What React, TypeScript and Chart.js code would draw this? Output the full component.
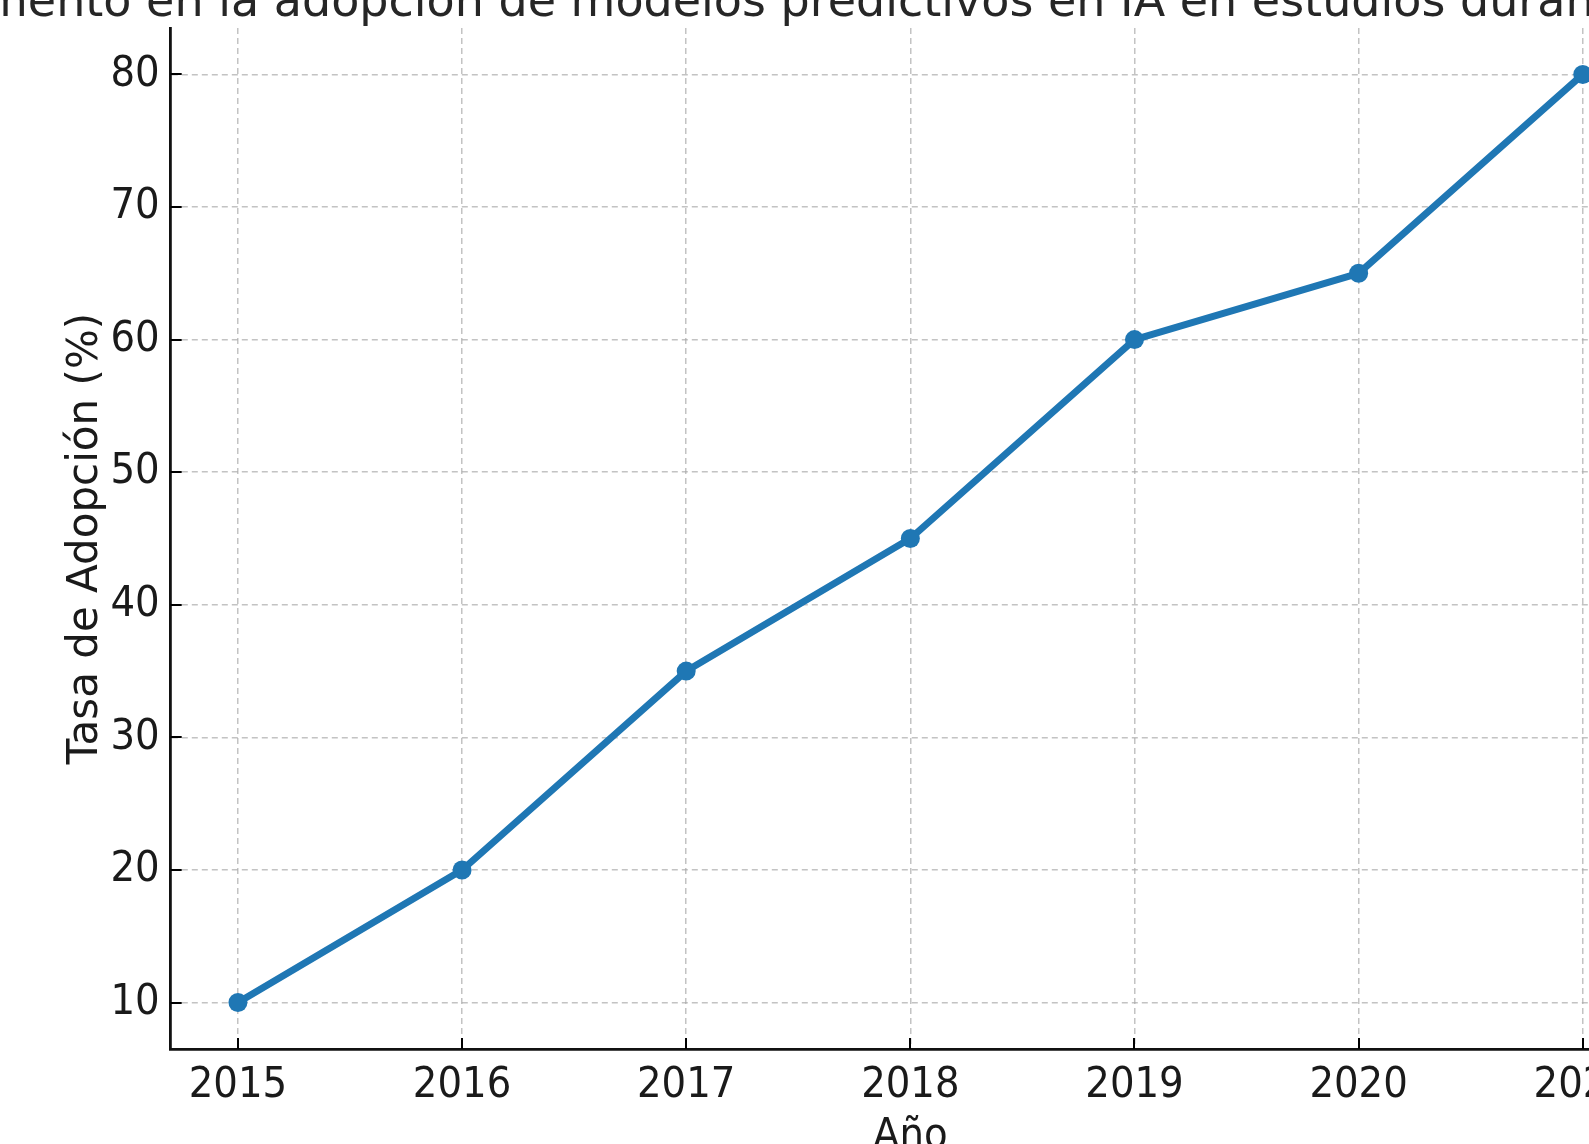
import React, { useEffect, useRef } from "react";
import { Chart, registerables } from "chart.js";

Chart.register(...registerables);

// ---- data ----
const years = [2015, 2016, 2017, 2018, 2019, 2020, 2021];
const adoptionRate = [10, 20, 35, 45, 60, 65, 80];
const yTickValues = [10, 20, 30, 40, 50, 60, 70, 80];
const titleText =
  "Aumento en la adopción de modelos predictivos en IA en estudios durante 2015-2021";
const xAxisTitle = "Año";
const yAxisTitle = "Tasa de Adopción (%)";

// ---- layout (the reference is a crop of a larger figure) ----
const VIEW_W = 1589;
const VIEW_H = 1144;
const OX = 200;
const OY = 60;
const CW = 2000;
const CH = 1250;

const TICK_FONT = '"DejaVu Sans Condensed", "Liberation Sans Narrow", "DejaVu Sans", sans-serif';
const LABEL_FONT = '"DejaVu Sans", sans-serif';

const innerTicks = {
  id: "innerTicks",
  afterDatasetsDraw(chart: any) {
    const { ctx, chartArea, scales } = chart;
    ctx.save();
    ctx.strokeStyle = "#000";
    ctx.lineWidth = 2;
    ctx.setLineDash([]);
    ctx.beginPath();
    scales.y.ticks.forEach((t: any) => {
      const y = Math.round(scales.y.getPixelForValue(t.value));
      ctx.moveTo(chartArea.left, y);
      ctx.lineTo(chartArea.left + 11, y);
    });
    scales.x.ticks.forEach((t: any) => {
      const x = Math.round(scales.x.getPixelForValue(t.value));
      ctx.moveTo(x, chartArea.bottom);
      ctx.lineTo(x, chartArea.bottom - 11);
    });
    ctx.stroke();
    ctx.restore();
  },
};

const topTitle = {
  id: "topTitle",
  afterDraw(chart: any) {
    const { ctx, chartArea } = chart;
    ctx.save();
    ctx.font = `46px ${LABEL_FONT}`;
    ctx.fillStyle = "#262626";
    ctx.textAlign = "center";
    ctx.textBaseline = "alphabetic";
    ctx.fillText(titleText, (chartArea.left + chartArea.right) / 2 + 4, chartArea.top - 12);
    ctx.restore();
  },
};

export default function App() {
  const canvasRef = useRef<HTMLCanvasElement | null>(null);

  useEffect(() => {
    const canvas = canvasRef.current;
    if (!canvas) return;
    const chart = new Chart(canvas, {
      type: "line",
      data: {
        datasets: [
          {
            label: yAxisTitle,
            data: years.map((y, i) => ({ x: y, y: adoptionRate[i] })),
            borderColor: "#1f77b4",
            backgroundColor: "#1f77b4",
            borderWidth: 7,
            pointRadius: 9.5,
            pointBackgroundColor: "#1f77b4",
            pointBorderWidth: 0,
            tension: 0,
            clip: false as any,
          },
        ],
      },
      plugins: [innerTicks, topTitle],
      options: {
        animation: false,
        responsive: false,
        devicePixelRatio: 1,
        layout: { padding: { top: 88, left: 0, right: 150, bottom: 27.4 } },
        plugins: {
          legend: { display: false },
          title: { display: false },
          tooltip: { enabled: false },
        },
        scales: {
          x: {
            type: "linear",
            min: 2014.7,
            max: 2021.3,
            afterBuildTicks: (scale: any) => {
              scale.ticks = years.map((v) => ({ value: v }));
            },
            afterFit: (scale: any) => {
              scale.height = 113.6;
            },
            ticks: {
              autoSkip: false,
              maxRotation: 0,
              padding: 11,
              color: "#1a1a1a",
              font: { family: TICK_FONT, size: 43 },
              callback: (v: any) => String(v),
            },
            grid: {
              color: "rgba(170,170,170,0.7)",
              lineWidth: 1.5,
              drawTicks: false,
            },
            border: { display: true, color: "#111", width: 2.8, dash: [6, 4] },
            title: {
              display: true,
              text: xAxisTitle,
              color: "#1a1a1a",
              font: { family: TICK_FONT, size: 43 },
              padding: { top: 0, bottom: 0 },
            },
          },
          y: {
            type: "linear",
            min: 6.5,
            max: 83.5,
            afterBuildTicks: (scale: any) => {
              scale.ticks = yTickValues.map((v) => ({ value: v }));
            },
            afterFit: (scale: any) => {
              scale.width = 370.7;
            },
            ticks: {
              padding: 11,
              color: "#1a1a1a",
              font: { family: TICK_FONT, size: 43 },
              callback: (v: any) => String(v),
            },
            grid: {
              color: "rgba(170,170,170,0.7)",
              lineWidth: 1.5,
              drawTicks: false,
            },
            border: { display: true, color: "#111", width: 2.8, dash: [6, 4] },
            title: {
              display: true,
              text: yAxisTitle,
              color: "#1a1a1a",
              font: { family: LABEL_FONT, size: 42 },
              padding: { top: 260.8, bottom: 0 },
            },
          },
        },
      },
    });
    return () => chart.destroy();
  }, []);

  return (
    <div
      style={{
        position: "fixed",
        left: 0,
        top: 0,
        width: VIEW_W,
        height: VIEW_H,
        overflow: "hidden",
        background: "#fff",
      }}
    >
      <div style={{ position: "absolute", left: -OX, top: -OY, width: CW, height: CH }}>
        <canvas ref={canvasRef} width={CW} height={CH} style={{ width: CW, height: CH, display: "block" }} />
      </div>
    </div>
  );
}
